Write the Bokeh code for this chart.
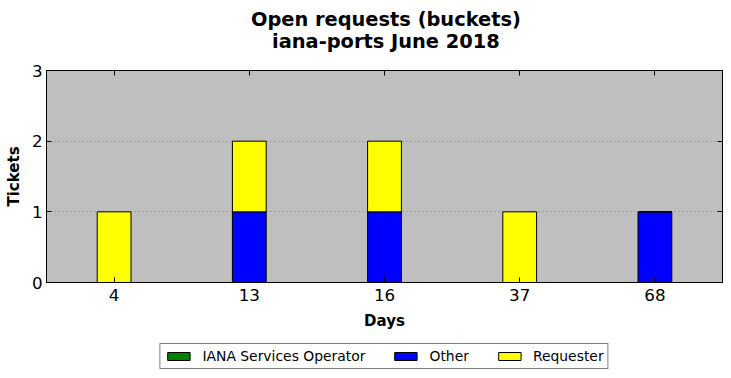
from bokeh.plotting import figure
from bokeh.models import (Range1d, FactorRange, FixedTicker, CategoricalAxis, LinearAxis, Legend,
                          Label, CustomJSTickFormatter)
from bokeh.layouts import column
from bokeh.embed import file_html
from bokeh.resources import INLINE

days = ["4", "13", "16", "37", "68"]
iana = [0, 0, 0, 0, 0]
other = [0, 1, 1, 0, 1]
requester = [1, 1, 1, 1, 0]
series = ["iana", "other", "requester"]
labels = ["IANA Services Operator", "Other", "Requester"]
colors = ["green", "blue", "yellow"]
yticks = [0, 1, 2, 3]
title_lines = ["Open requests (buckets)", "iana-ports June 2018"]

data = dict(days=days, iana=iana, other=other, requester=requester)

FONT = "DejaVu Sans"
W = 731
TH = 55

# ---- title strip ----
tf = figure(width=W, height=TH, x_range=Range1d(0, W), y_range=Range1d(0, TH),
            x_axis_type=None, y_axis_type=None,
            output_backend="svg", toolbar_location=None,
            min_border_left=0, min_border_right=0, min_border_top=0, min_border_bottom=0)
tf.grid.visible = False
tf.outline_line_color = None
tf.background_fill_color = "white"
for txt, yy in zip(title_lines, [TH - 19, TH - 41]):
    tf.add_layout(Label(x=367, y=yy, text=txt, text_align="center", text_baseline="middle",
                        text_font=FONT, text_font_size="19.4px", text_font_style="bold",
                        text_color="black"))

# ---- main chart ----
p = figure(x_range=days, y_range=Range1d(0, 3), frame_width=676, frame_height=212,
           output_backend="svg", toolbar_location=None,
           min_border_left=46, min_border_right=9, min_border_top=15, min_border_bottom=59)
p.title = None
p.background_fill_color = "#bfbfbf"
p.border_fill_color = "white"
p.outline_line_color = "black"
p.outline_line_width = 1

r = p.vbar_stack(series, x="days", width=0.25, source=data, color=colors,
                 line_color="black", line_width=1)

p.xgrid.visible = False
p.ygrid.grid_line_color = "#808080"
p.ygrid.grid_line_dash = "1 3"
p.ygrid.grid_line_width = 1
p.ygrid.ticker = FixedTicker(ticks=[1, 2])

for ax in [p.xaxis[0], p.yaxis[0]]:
    ax.major_label_text_font = FONT
    ax.major_label_text_font_size = "16.7px"
    ax.major_label_text_color = "black"
    ax.axis_label_text_font = FONT
    ax.axis_label_text_font_size = "15px"
    ax.axis_label_text_font_style = "bold"
    ax.axis_label_text_color = "black"
    ax.major_tick_in = 5
    ax.major_tick_out = 0
    ax.minor_tick_in = 0
    ax.minor_tick_out = 0
    ax.axis_line_color = "black"
    ax.major_tick_line_color = "black"

p.yaxis[0].ticker = FixedTicker(ticks=yticks)
p.yaxis[0].axis_label = "Tickets"
p.yaxis[0].major_label_standoff = 4
p.yaxis[0].axis_label_standoff = 6
p.xaxis[0].axis_label = "Days"
p.xaxis[0].major_label_standoff = 6
p.xaxis[0].axis_label_standoff = 8

blank = CustomJSTickFormatter(code="return '';")
top = CategoricalAxis(formatter=blank, major_tick_in=5,
                      major_tick_out=0, axis_line_color="black", major_tick_line_color="black",
                      major_label_standoff=0)
p.add_layout(top, "above")
right = LinearAxis(ticker=FixedTicker(ticks=yticks), formatter=blank,
                   major_tick_in=5, major_tick_out=0, minor_tick_in=0, minor_tick_out=0,
                   axis_line_color="black", major_tick_line_color="black", major_label_standoff=0)
p.add_layout(right, "right")

# ---- legend strip ----
lf = figure(x_range=FactorRange(factors=["legend"]), y_range=Range1d(100, 101),
            x_axis_type=None, y_axis_type=None, width=W, height=37,
            output_backend="svg", toolbar_location=None,
            min_border_left=0, min_border_right=0, min_border_top=0, min_border_bottom=8)
lf.grid.visible = False
lf.outline_line_color = None
lf.background_fill_color = "white"
lr = lf.vbar_stack(series, x="days", width=0.25, source=data, color=colors,
                   line_color="black", line_width=1)

legend = Legend(items=[(labels[i], [lr[i]]) for i in range(3)], orientation="horizontal",
                location="center", border_line_color="black", border_line_width=1,
                label_text_font=FONT, label_text_font_size="13.9px", label_text_color="black",
                glyph_width=28, glyph_height=10, spacing=26, padding=4, margin=0,
                label_standoff=10, background_fill_color="white", background_fill_alpha=1)
lf.add_layout(legend, "center")

layout = column(tf, p, lf, spacing=0)
open("out.html", "w").write(file_html(layout, INLINE))
